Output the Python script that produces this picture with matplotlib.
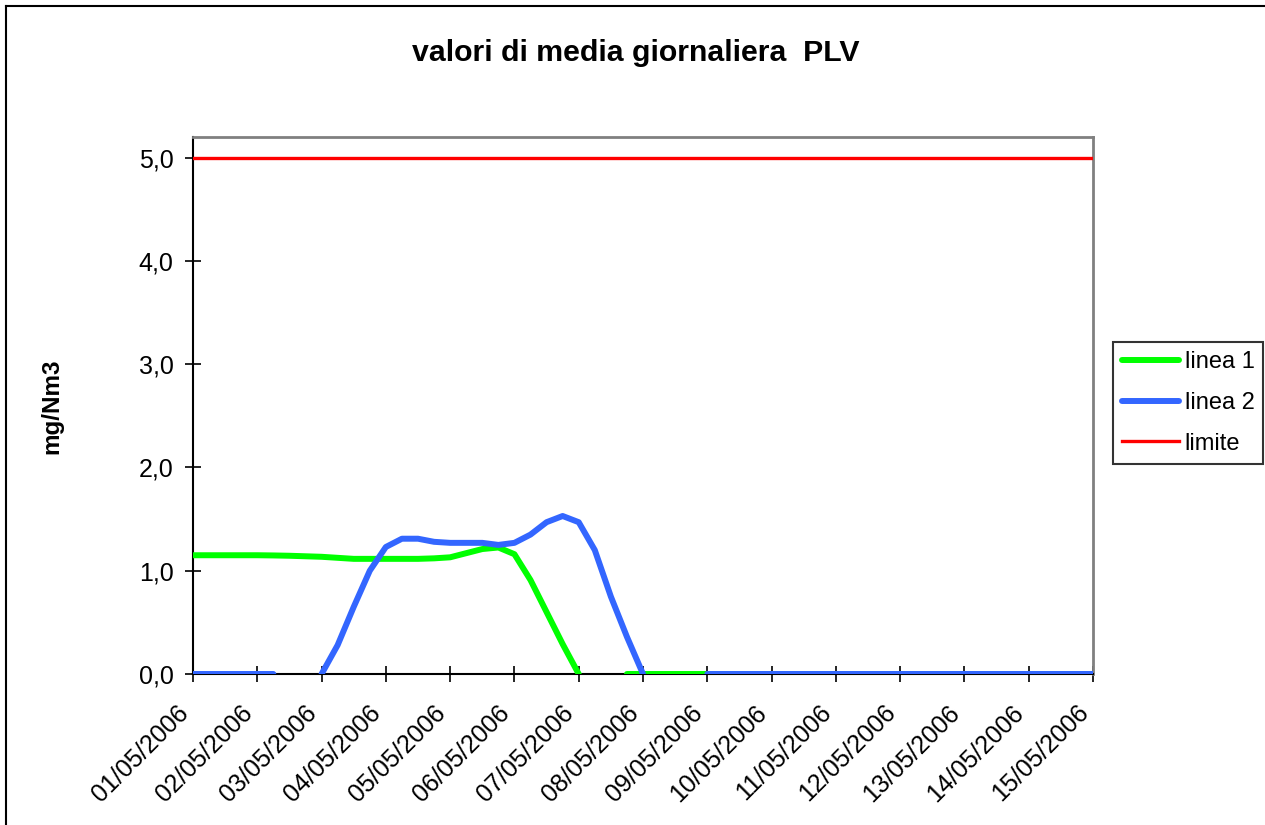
import numpy as np
import matplotlib
matplotlib.use('Agg')
import matplotlib.pyplot as plt
from matplotlib.lines import Line2D

plt.rcParams['font.family'] = ['Liberation Sans', 'DejaVu Sans']

# x: giorni dal 01/05/2006, un valore ogni 6 ore
giorni = np.arange(57) / 4.0

linea1 = [1.15, 1.15, 1.15, 1.15,
          1.15, 1.148, 1.145, 1.14,
          1.135, 1.125, 1.115, 1.115,
          1.115, 1.115, 1.115, 1.12,
          1.13, 1.17, 1.21, 1.225,
          1.16, 0.91, 0.60, 0.29,
          0.0, np.nan, np.nan, 0.0,
          0.0, 0.0, 0.0, 0.0,
          0.0, 0.0, 0.0, 0.0,
          0.0, 0.0, 0.0, 0.0,
          0.0, 0.0, 0.0, 0.0,
          0.0, 0.0, 0.0, 0.0,
          0.0, 0.0, 0.0, 0.0,
          0.0, 0.0, 0.0, 0.0,
          0.0]

linea2 = [0.0, 0.0, 0.0, 0.0,
          0.0, 0.0, np.nan, np.nan,
          0.0, 0.28, 0.65, 1.0,
          1.23, 1.31, 1.31, 1.28,
          1.27, 1.27, 1.27, 1.25,
          1.27, 1.35, 1.47, 1.53,
          1.47, 1.2, 0.75, 0.36,
          0.0, np.nan, np.nan, np.nan,
          0.0, 0.0, 0.0, 0.0,
          0.0, 0.0, 0.0, 0.0,
          0.0, 0.0, 0.0, 0.0,
          0.0, 0.0, 0.0, 0.0,
          0.0, 0.0, 0.0, 0.0,
          0.0, 0.0, 0.0, 0.0,
          0.0]

giorni_limite = list(range(15))
limite = [5.0] * 15

date_labels = ['01/05/2006', '02/05/2006', '03/05/2006', '04/05/2006', '05/05/2006',
               '06/05/2006', '07/05/2006', '08/05/2006', '09/05/2006', '10/05/2006',
               '11/05/2006', '12/05/2006', '13/05/2006', '14/05/2006', '15/05/2006']
y_ticks = [0, 1, 2, 3, 4, 5]
y_labels = ['0,0', '1,0', '2,0', '3,0', '4,0', '5,0']

W, H = 1265, 825
fig = plt.figure(figsize=(W / 100, H / 100), dpi=100)
ax = fig.add_axes([193 / W, 1 - 674 / H, (1093 - 193) / W, (674 - 137) / H])

ax.plot(giorni, linea1, color='#00ff00', lw=4.3, label='linea 1',
        solid_joinstyle='round', solid_capstyle='round', zorder=3)
ax.plot(giorni, linea2, color='#3366ff', lw=4.3, label='linea 2',
        solid_joinstyle='round', solid_capstyle='round', zorder=4)
ax.plot(giorni_limite, limite, color='#ff0000', lw=2.4, label='limite', zorder=5)

ax.set_xlim(0, 14)
ax.set_ylim(0, 5.2)
ax.set_yticks(y_ticks)
ax.set_yticklabels(y_labels, fontsize=18)
ax.set_xticks(range(15))
ax.set_xticklabels(date_labels, fontsize=18, rotation=45, ha='right', va='top')
ax.tick_params(axis='y', direction='inout', length=12, width=1.2, pad=8)
ax.tick_params(axis='x', direction='inout', length=12, width=1.2, pad=13)

for s in ['left', 'bottom']:
    ax.spines[s].set_color('black')
    ax.spines[s].set_linewidth(1.5)
for s in ['top', 'right']:
    ax.spines[s].set_color('#808080')
    ax.spines[s].set_linewidth(2)

fig.text(636 / W, 1 - 53 / H, 'valori di media giornaliera  PLV', fontsize=21.8,
         fontweight='bold', ha='center', va='center')
fig.text(52 / W, 1 - 406 / H, 'mg/Nm3', fontsize=17.5, fontweight='bold',
         rotation=90, ha='center', va='center')

leg = fig.legend(loc='upper left', bbox_to_anchor=(1113 / W, 1 - 342 / H),
                 fontsize=17, frameon=True, fancybox=False, borderaxespad=0,
                 handlelength=2.4, handletextpad=0.25, borderpad=0.38,
                 labelspacing=0.8)
leg.get_frame().set_edgecolor('black')
leg.get_frame().set_linewidth(1.5)

# bordo esterno del grafico
fig.add_artist(Line2D([6 / W, 6 / W], [0, 1 - 6 / H], transform=fig.transFigure,
                      color='black', lw=1.5))
fig.add_artist(Line2D([6 / W, 1], [1 - 6 / H, 1 - 6 / H], transform=fig.transFigure,
                      color='black', lw=1.5))

fig.savefig('out.png', dpi=100)
